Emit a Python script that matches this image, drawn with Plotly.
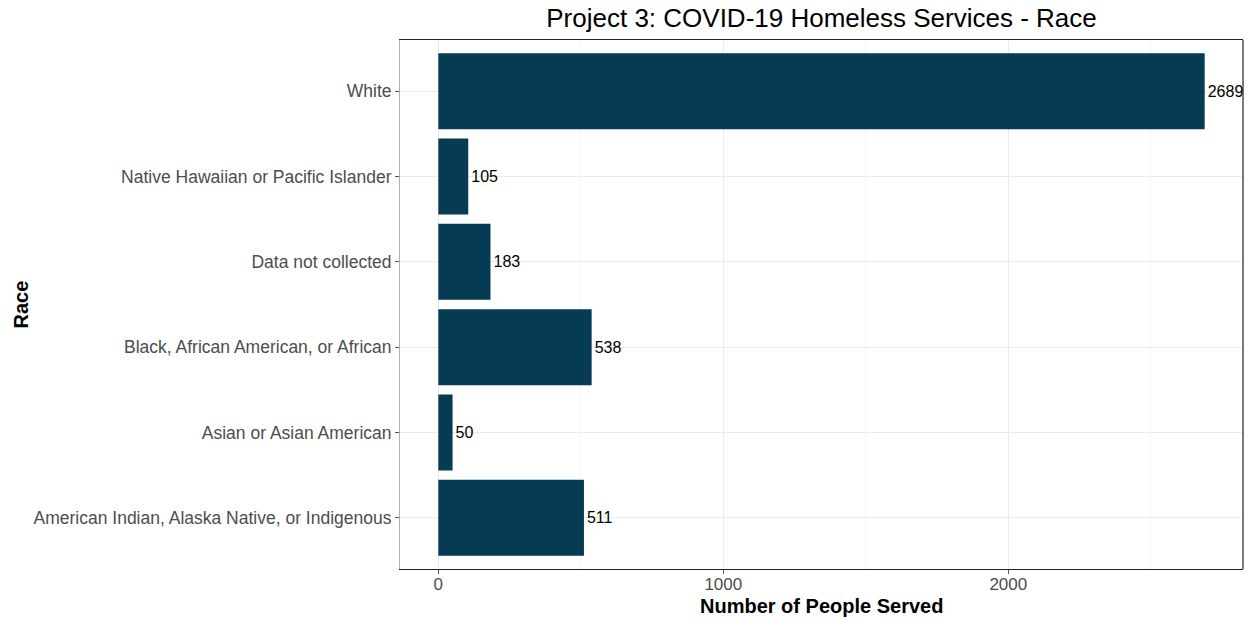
import plotly.graph_objects as go

categories = [
    "American Indian, Alaska Native, or Indigenous",
    "Asian or Asian American",
    "Black, African American, or African",
    "Data not collected",
    "Native Hawaiian or Pacific Islander",
    "White",
]
values = [511, 50, 538, 183, 105, 2689]
x_ticks = [0, 1000, 2000]
x_minor = [500, 1500, 2500]

BAR = "#063b54"
FONT = "Liberation Sans, Arial, sans-serif"
W, H = 1253, 619
ML, MR, MT, MB = 400, 10, 40, 50

fig = go.Figure()
fig.add_trace(go.Bar(
    x=values, y=categories, orientation="h",
    marker=dict(color=BAR, line=dict(width=0)),
    width=0.89,
    text=[str(v) for v in values], textposition="outside",
    textfont=dict(family=FONT, size=16, color="black"),
    cliponaxis=False,
))

vmax = max(values)
pad = vmax * 0.05
fig.update_layout(
    width=W, height=H,
    margin=dict(l=ML, r=MR, t=MT, b=MB),
    paper_bgcolor="white", plot_bgcolor="white",
    showlegend=False,
    title=dict(text="Project 3: COVID-19 Homeless Services - Race",
               font=dict(family=FONT, size=26, color="black"),
               xref="paper", x=0.5, xanchor="center",
               yref="container", y=1 - 18 / H, yanchor="middle"),
    xaxis=dict(
        automargin=False,
        range=[-pad, vmax + pad],
        tickvals=x_ticks, ticktext=[str(t) for t in x_ticks],
        tickfont=dict(family=FONT, size=17, color="#4d4d4d"),
        ticks="outside", ticklen=4, tickcolor="#555555",
        ticklabelstandoff=-5,
        showgrid=True, gridcolor="#ebebeb", gridwidth=1,
        minor=dict(tickvals=x_minor, showgrid=True, gridcolor="#f5f5f5", gridwidth=1, ticks=""),
        zeroline=False,
        showline=True, linecolor="#222222", linewidth=1.2, mirror=True,
    ),
    yaxis=dict(
        automargin=False,
        categoryorder="array", categoryarray=categories,
        range=[-0.6, len(categories) - 0.4],
        tickfont=dict(family=FONT, size=17.5, color="#4d4d4d"),
        ticks="outside", ticklen=4, tickcolor="#555555",
        showgrid=True, gridcolor="#ebebeb", gridwidth=1,
        zeroline=False,
        showline=True, linecolor="#b0b0b0", linewidth=1, mirror=False,
    ),
    bargap=0.1,
    shapes=[
        dict(type="line", xref="paper", yref="paper", x0=1, x1=1, y0=0, y1=1,
             line=dict(color="#222222", width=1.2)),
    ],
    annotations=[
        dict(text="<b>Number of People Served</b>", xref="paper", yref="paper",
             x=0.5, xanchor="center", y=-(606 - (H - MB)) / (H - MT - MB), yanchor="middle",
             showarrow=False, font=dict(family=FONT, size=20, color="black")),
        dict(text="<b>Race</b>", xref="paper", yref="paper",
             x=-(ML - 20) / (W - ML - MR), xanchor="center", y=0.5, yanchor="middle",
             textangle=-90, showarrow=False, font=dict(family=FONT, size=20, color="black")),
    ],
)

fig.write_html("out.html", post_script="document.body.style.margin='0';",
               config={"displayModeBar": False})
